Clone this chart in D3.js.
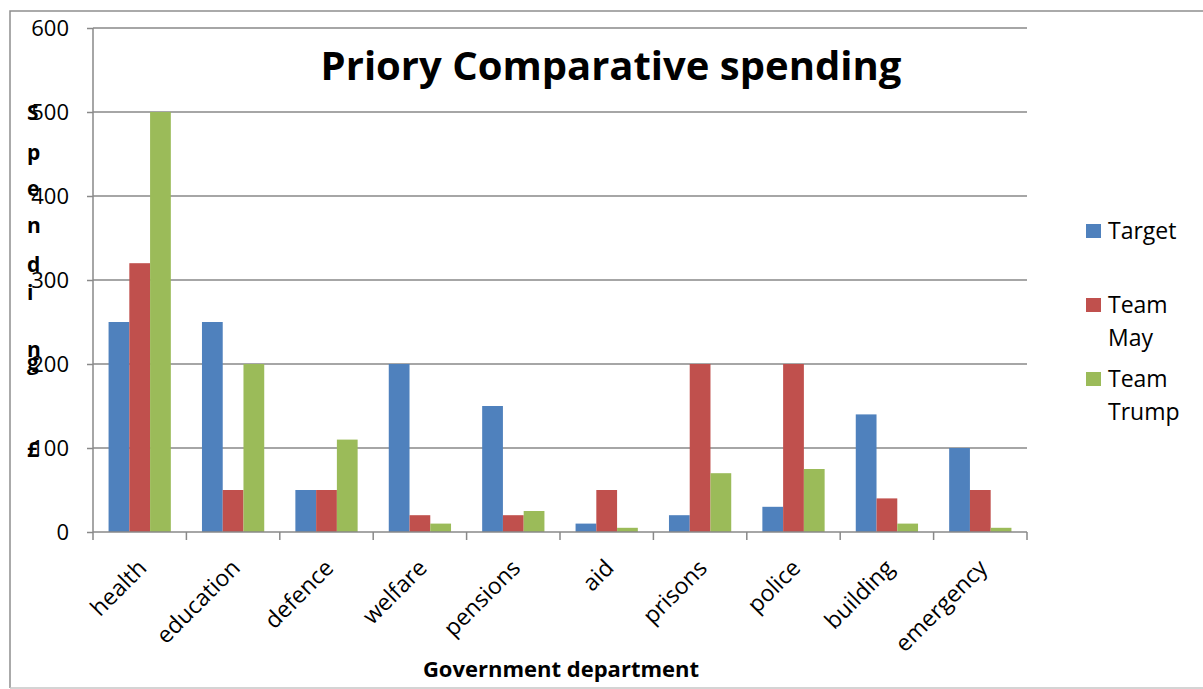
<!DOCTYPE html>
<html>
<head>
<meta charset="utf-8">
<script src="https://cdn.jsdelivr.net/npm/d3@7/dist/d3.min.js"></script>
<style>
  html, body { margin: 0; padding: 0; background: #fff; }
  svg { display: block; font-family: "Open Sans", sans-serif; }
</style>
</head>
<body>
<svg id="chart" width="1203" height="689"></svg>
<script>
// Spending by government department
const categories = ["health", "education", "defence", "welfare", "pensions",
                    "aid", "prisons", "police", "building", "emergency"];
const seriesNames = ["Target", "Team May", "Team Trump"];
const target    = [250, 250, 50, 200, 150, 10, 20, 30, 140, 100];
const teamMay   = [320, 50, 50, 20, 20, 50, 200, 200, 40, 50];
const teamTrump = [500, 200, 110, 10, 25, 5, 70, 75, 10, 5];
const yTicks = [0, 100, 200, 300, 400, 500, 600];
const colors = ["#4F81BD", "#C0504D", "#9BBB59"];
const titleText = "Priory Comparative spending";
const xTitle = "Government department";
const yTitleLetters = ["S", "p", "e", "n", "d", "i", "n", "g", "£"];

const seriesValues = [target, teamMay, teamTrump];
const svg = d3.select("#chart");

const plot = { left: 93, right: 1027, top: 28, bottom: 532 };
const gridColor = "#898989";

// Outer chart frame (open on the right)
svg.append("path")
  .attr("d", "M1203,11 H10 V688")
  .attr("fill", "none").attr("stroke", "#8e8e8e").attr("stroke-width", 1.5);
svg.append("line")
  .attr("x1", 10).attr("x2", 1203).attr("y1", 688).attr("y2", 688)
  .attr("stroke", "#c6c6c6").attr("stroke-width", 1.5);

const x = d3.scaleBand().domain(categories).range([plot.left, plot.right])
  .paddingInner(0).paddingOuter(0);
const xs = d3.scaleBand().domain(seriesNames).range([0, x.bandwidth()])
  .paddingInner(0).paddingOuter(0.75);
const y = d3.scaleLinear().domain([0, 600]).range([plot.bottom, plot.top]);

// Horizontal gridlines
svg.append("g").selectAll("line").data(yTicks.filter(d => d > 0)).join("line")
  .attr("x1", plot.left).attr("x2", plot.right)
  .attr("y1", d => y(d)).attr("y2", d => y(d))
  .attr("stroke", gridColor).attr("stroke-width", 1.5);

// Bars
const rows = categories.map((c, i) => ({ cat: c, vals: seriesNames.map((s, j) => ({ s, j, v: seriesValues[j][i] })) }));
svg.append("g").selectAll("g").data(rows).join("g")
  .attr("transform", d => `translate(${x(d.cat)},0)`)
  .selectAll("rect").data(d => d.vals).join("rect")
  .attr("x", d => xs(d.s))
  .attr("width", xs.bandwidth())
  .attr("y", d => y(d.v))
  .attr("height", d => y(0) - y(d.v))
  .attr("fill", d => colors[d.j]);

// Y axis
const yAxis = d3.axisLeft(y).tickValues(yTicks).tickSize(6).tickPadding(18).tickFormat(d3.format("d"));
const gy = svg.append("g").attr("transform", `translate(${plot.left},0)`).call(yAxis);
gy.select(".domain").attr("stroke", gridColor).attr("stroke-width", 1.5).attr("d", `M0,${plot.top}V${plot.bottom}`);
gy.selectAll(".tick line").attr("stroke", gridColor).attr("stroke-width", 1.5);
gy.selectAll(".tick text").attr("fill", "#000").attr("font-size", 22)
  .attr("font-family", "Open Sans, sans-serif");

// X axis with ticks at the category boundaries
const gx = svg.append("g").attr("transform", `translate(0,${plot.bottom})`);
gx.append("line").attr("x1", plot.left).attr("x2", plot.right).attr("y1", 0).attr("y2", 0)
  .attr("stroke", gridColor).attr("stroke-width", 1.5);
const bounds = categories.map(c => x(c)).concat([x(categories[categories.length - 1]) + x.bandwidth()]);
gx.selectAll("line.tk").data(bounds).join("line").attr("class", "tk")
  .attr("x1", d => d).attr("x2", d => d).attr("y1", 0).attr("y2", 8)
  .attr("stroke", gridColor).attr("stroke-width", 1.5);
gx.selectAll("text").data(categories).join("text")
  .attr("transform", d => `translate(${x(d) + x.bandwidth() / 2 - 3},${26}) rotate(-45)`)
  .attr("text-anchor", "end").attr("dy", "0.7em")
  .attr("font-size", 23).attr("fill", "#000")
  .text(d => d);

// Title
svg.append("text").attr("x", 611).attr("y", 80).attr("text-anchor", "middle")
  .attr("font-size", 40).attr("font-weight", "bold").attr("fill", "#000")
  .text(titleText);

// X axis title
svg.append("text").attr("x", 561).attr("y", 677).attr("text-anchor", "middle")
  .attr("font-size", 22).attr("font-weight", "bold").attr("fill", "#000")
  .text(xTitle);

// Y axis title, stacked letters
const letterBaselines = [120, 160, 196, 233, 272, 300, 357, 370, 457];
svg.append("g").selectAll("text").data(yTitleLetters).join("text")
  .attr("x", 27).attr("y", (d, i) => letterBaselines[i])
  .attr("font-size", 21).attr("font-weight", "bold").attr("fill", "#000")
  .text(d => d);

// Legend
const legendItems = [
  { name: "Target", lines: ["Target"], top: 224 },
  { name: "Team May", lines: ["Team", "May"], top: 298 },
  { name: "Team Trump", lines: ["Team", "Trump"], top: 372 }
];
const lg = svg.append("g").selectAll("g").data(legendItems).join("g")
  .attr("transform", d => `translate(1086,${d.top})`);
lg.append("rect").attr("width", 15).attr("height", 14)
  .attr("fill", (d, i) => colors[seriesNames.indexOf(d.name)]);
lg.selectAll("text").data(d => d.lines).join("text")
  .attr("x", 22).attr("y", (d, i) => 15 + i * 33)
  .attr("font-size", 23).attr("fill", "#000")
  .text(d => d);
</script>
</body>
</html>
